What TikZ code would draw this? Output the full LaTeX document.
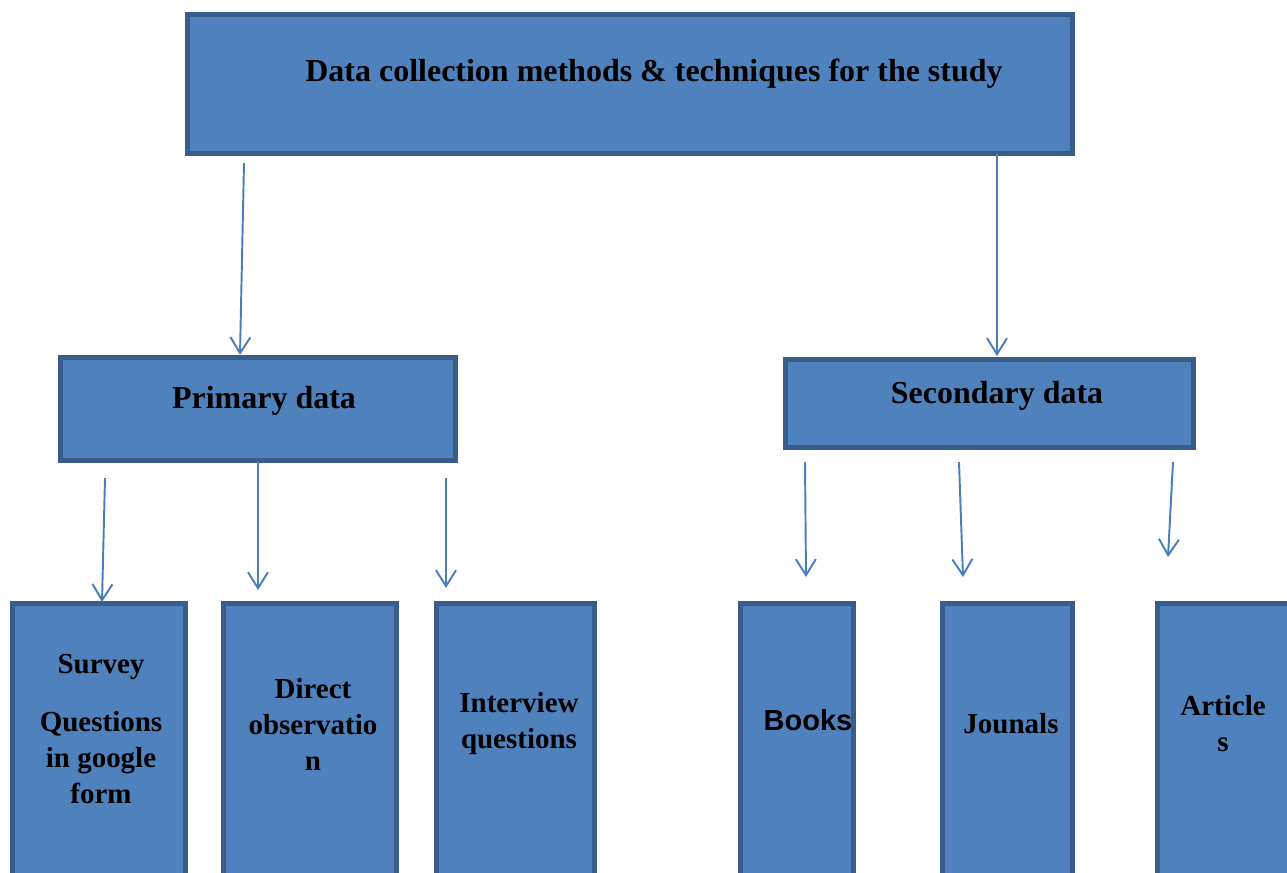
\documentclass[tikz,border=0pt]{standalone}
\usepackage{fontspec}
\setmainfont{Liberation Serif}
\setsansfont{Liberation Sans}
\usetikzlibrary{arrows.meta,calc}

\definecolor{boxfill}{HTML}{4F81BD}
\definecolor{boxline}{HTML}{385D8A}
\definecolor{arrowline}{HTML}{4A7EBB}

\begin{document}
\begin{tikzpicture}[x=0.02cm, y=-0.02cm,
    box/.style 2 args={draw=boxline, fill=boxfill, line width=2.6pt,
        inner sep=0pt, outer sep=0pt,
        minimum width={#1*0.02cm}, minimum height={#2*0.02cm}},
    txt/.style={font=\bfseries\fontsize{16.5}{20.5}\selectfont, align=center, inner sep=0pt},
    bigtxt/.style={txt, font=\bfseries\fontsize{18.2}{22}\selectfont},
    arr/.style={draw=arrowline, line width=1.1pt,
        -{Straight Barb[length=3.2mm, width=4mm, line width=1.1pt]}}]

    % Page frame
    \useasboundingbox (0,0) rectangle (1287,872);
    \clip (0,0) rectangle (1287,872);

    % Top box
    \node[box={885}{139}] (top) at (630,84) {};
    \node[bigtxt] (toptext) at (654,74) {Data collection methods \& techniques for the study};

    % Primary and secondary data
    \node[box={395}{103}] (prim) at (258,409) {};
    \node[bigtxt] (primtext) at (264,401) {Primary data};
    \node[box={408}{88}] (sec) at (989.5,403.5) {};
    \node[bigtxt] (sectext) at (997,396) {Secondary data};

    % Bottom boxes (cut at the page edge)
    \node[box={173}{296}] (survey) at (99,751.5) {};
    \node[box={173}{296}] (direct) at (310,751.5) {};
    \node[box={158}{296}] (interview) at (515.5,751.5) {};
    \node[box={113}{296}] (books) at (797,751.5) {};
    \node[box={130}{296}] (jounals) at (1007.5,751.5) {};
    \node[box={135}{296}] (articles) at (1225,751.5) {};

    \node[txt] (surveytext) at (101,729) {Survey\\[13pt]Questions\\in google\\form};
    \node[txt] (directtext) at (313,724) {Direct\\observatio\\n};
    \node[txt] (interviewtext) at (519,724) {Interview\\questions};
    \node[txt, font=\sffamily\bfseries\fontsize{16.5}{20.5}\selectfont] (bookstext) at (808,720) {Books};
    \node[txt] (jounalstext) at (1011,724) {Jounals};
    \node[txt] (articlestext) at (1223,724) {Article\\s};

    % Arrows from the top box
    \draw[arr] ($(top.south west)+(56.5,9.5)$) -- ($(prim.north west)+(179.5,-2.5)$);
    \draw[arr] ($(top.south west)+(809.5,0)$) -- ($(sec.north west)+(211.5,-3.5)$);

    % Arrows from primary data
    \draw[arr] ($(prim.south west)+(44.5,17.5)$) -- ($(survey.north west)+(89.5,-1.5)$);
    \draw[arr] ($(prim.south west)+(197.5,0)$) -- ($(direct.north west)+(34.5,-13.5)$);
    \draw[arr] ($(prim.south west)+(385.5,17.5)$) -- ($(interview.north west)+(9.5,-15.5)$);

    % Arrows from secondary data
    \draw[arr] ($(sec.south west)+(19.5,14.5)$) -- ($(books.north west)+(65.5,-26.5)$);
    \draw[arr] ($(sec.south west)+(173.5,14.5)$) -- ($(jounals.north west)+(20.5,-26.5)$);
    \draw[arr] ($(sec.south west)+(387.5,14.5)$) -- ($(articles.north west)+(10.5,-46.5)$);

\end{tikzpicture}
\end{document}
